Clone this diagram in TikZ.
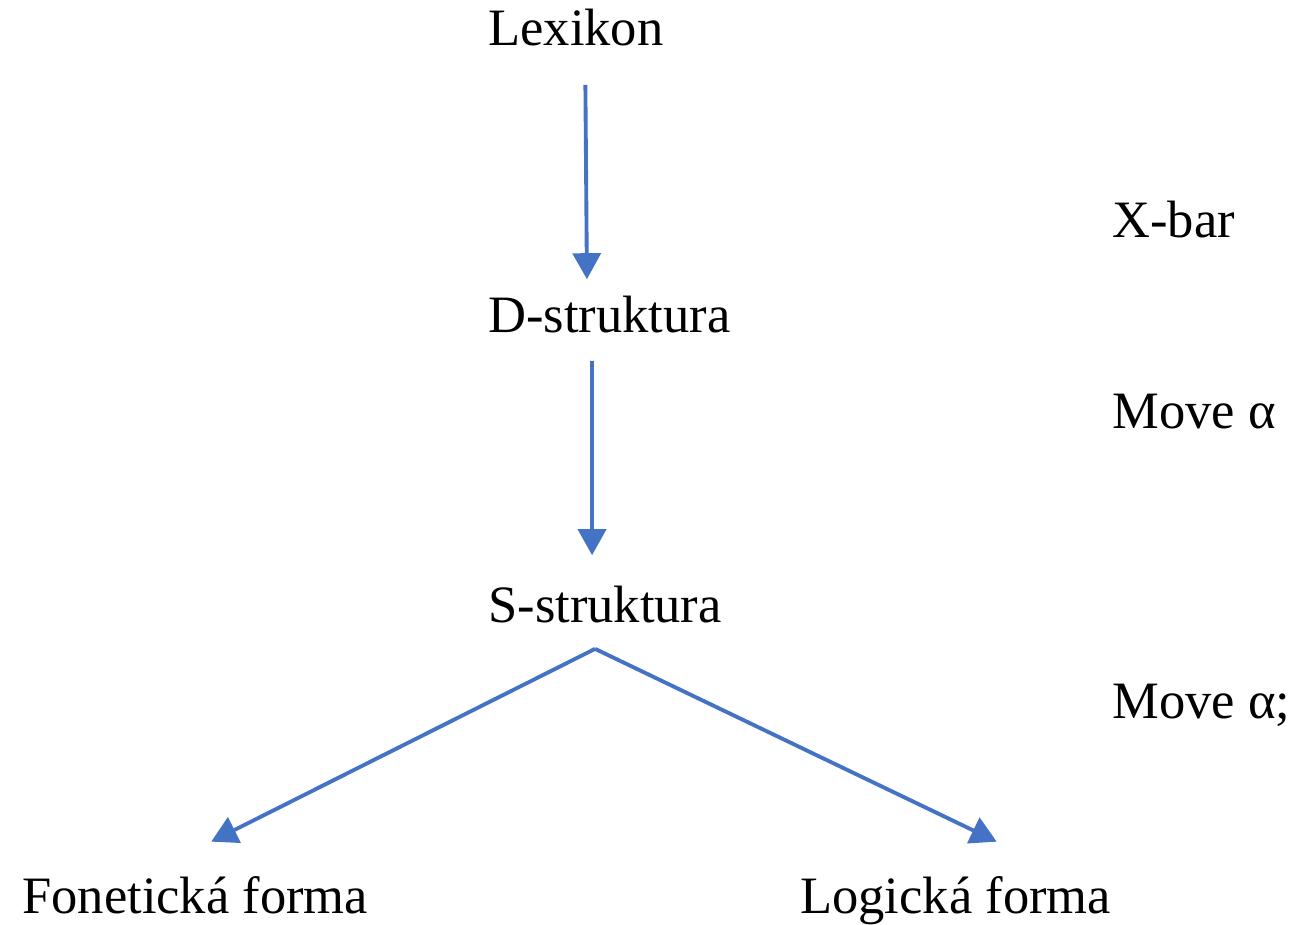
\documentclass[tikz,border=0pt]{standalone}
\usepackage{fontspec}
\setmainfont{Liberation Serif}
\usetikzlibrary{arrows.meta}
\definecolor{arrowblue}{HTML}{4472C4}
\begin{document}
\begin{tikzpicture}[x=0.02cm, y=-0.02cm,
        label/.style={anchor=base west, inner sep=0pt, font=\fontsize{29.9}{36}\selectfont},
        flow/.style={arrowblue, line width=2.2pt, -{Triangle[width=0.56cm, length=0.52cm]}}]
            \useasboundingbox (0, 0) rectangle (1296, 925);
            \node[label] (lex) at (488, 46) {Lexikon};
            \node[label] (dstr) at (488, 333) {D-struktura};
            \node[label] (sstr) at (488, 623) {S-struktura};
            \node[label] (fon) at (22, 913) {Fonetická forma};
            \node[label] (log) at (800, 913) {Logická forma};
            \node[label] (xbar) at (1112, 238) {X-bar};
            \node[label] (move1) at (1112, 429) {Move α};
            \node[label] (move2) at (1112, 719) {Move α;};
            \draw[flow] ([shift={(9.5, 38)}]lex.south) to ([shift={(-22.5, -17)}]dstr.north);
            \draw[flow] ([shift={(-17.5, 27)}]dstr.south) to ([shift={(-13, -31)}]sstr.north);
            \draw[flow] ([shift={(-10, 25)}]sstr.south) to ([shift={(16, -34)}]fon.north);
            \draw[flow] ([shift={(-10, 25)}]sstr.south) to ([shift={(41, -34)}]log.north);
        \end{tikzpicture}
\end{document}
